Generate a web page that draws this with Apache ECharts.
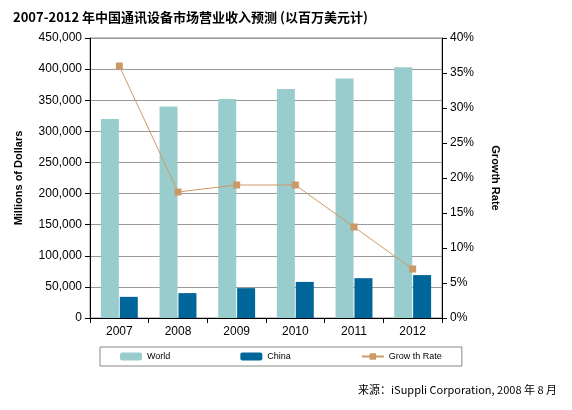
<!DOCTYPE html>
<html><head><meta charset="utf-8">
<script src="https://cdn.jsdelivr.net/npm/echarts@6/dist/echarts.min.js"></script>
<style>body{margin:0;background:#fff}#c{width:572px;height:410px}</style>
</head><body><div id="c"></div>
<script>
var years = ['2007', '2008', '2009', '2010', '2011', '2012'];
var world = [320000, 340000, 352000, 368000, 385000, 403000];
var china = [34000, 40000, 48000, 58000, 64000, 69000];
var growth = [36, 18, 19, 19, 13, 7];

var chart = echarts.init(document.getElementById('c'));
var font = 'Liberation Sans, Arial, sans-serif';
chart.setOption({
  animation: false,
  title: [{
    text: '2007-2012 年中国通讯设备市场营业收入预测 (以百万美元计)',
    left: 8, top: 6,
    textStyle: {fontSize: 13, fontWeight: 'bold', color: '#000', fontFamily: 'Noto Sans CJK SC'}
  }, {
    text: '来源：iSuppli Corporation, 2008 年 8 月',
    right: 10, top: 379,
    textStyle: {fontSize: 11, fontWeight: 'normal', color: '#000', fontFamily: 'Noto Sans CJK SC'}
  }],
  grid: {left: 90, right: 130, top: 38, bottom: 92, show: true, borderColor: '#888', borderWidth: 1},
  legend: {
    bottom: 44, left: 100, width: 340, itemGap: 70,
    borderColor: '#888', borderWidth: 1, padding: [5, 20],
    textStyle: {fontSize: 9, fontFamily: font, color: '#000'},
    itemWidth: 22, itemHeight: 8
  },
  xAxis: {
    type: 'category', data: years,
    axisLine: {lineStyle: {color: '#000'}},
    axisTick: {show: true, lineStyle: {color: '#000'}},
    axisLabel: {color: '#000', fontSize: 12, fontFamily: font}
  },
  yAxis: [{
    type: 'value', min: 0, max: 450000, interval: 50000,
    name: 'Millions of Dollars', nameLocation: 'middle', nameGap: 66, nameRotate: 90,
    nameTextStyle: {fontWeight: 'bold', fontSize: 11, color: '#000', fontFamily: font},
    axisLine: {show: true, lineStyle: {color: '#000'}},
    axisTick: {show: true},
    axisLabel: {color: '#000', fontSize: 12, fontFamily: font,
      formatter: function (v) { return v.toLocaleString('en-US'); }},
    splitLine: {lineStyle: {color: '#999'}}
  }, {
    type: 'value', min: 0, max: 40, interval: 5,
    name: 'Growth Rate', nameLocation: 'middle', nameGap: 48, nameRotate: -90,
    nameTextStyle: {fontWeight: 'bold', fontSize: 11, color: '#000', fontFamily: font},
    axisLine: {show: true, lineStyle: {color: '#000'}},
    axisTick: {show: true},
    axisLabel: {color: '#000', fontSize: 12, fontFamily: font, formatter: '{value}%'},
    splitLine: {show: false}
  }],
  series: [{
    name: 'World', type: 'bar', data: world, barWidth: 18, barGap: '5%',
    itemStyle: {color: '#99cccc'}
  }, {
    name: 'China', type: 'bar', data: china, barWidth: 18,
    itemStyle: {color: '#006699'}
  }, {
    name: 'Grow th Rate', type: 'line', yAxisIndex: 1, data: growth,
    symbol: 'rect', symbolSize: 7,
    lineStyle: {color: '#cc9966', width: 1},
    itemStyle: {color: '#cc9966'}
  }]
});
</script></body></html>
